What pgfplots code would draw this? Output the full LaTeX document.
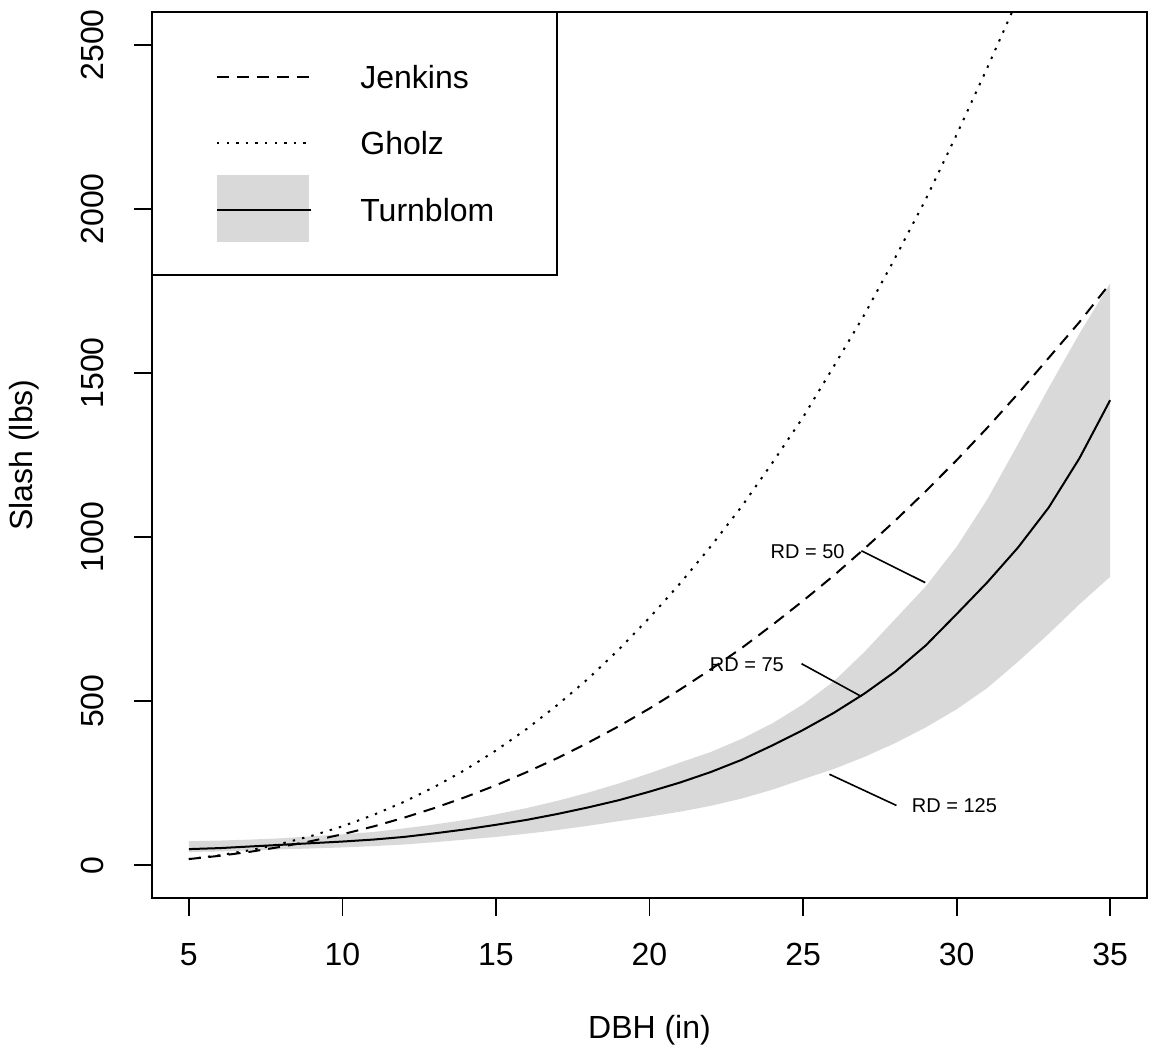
\documentclass[border=0pt]{standalone}
\usepackage{pgfplots}
\pgfplotsset{compat=1.18}
\usepgfplotslibrary{fillbetween}
\usepackage{pgfplotstable}
\usepackage{fontspec}
\setmainfont{Liberation Sans}
\definecolor{band}{HTML}{D9D9D9}

\pgfplotstableread{
x y
5 18.6
6 28.5
7 40.9
8 55.9
9 73.6
10 94.2
11 117.7
12 144.5
13 174.2
14 207.3
15 243.5
16 283.5
17 326.3
18 373.2
19 423.4
20 477.5
21 535.5
22 597
23 661.6
24 732
25 805.6
26 882.6
27 964.6
28 1050
29 1140
30 1234
31 1333
32 1437
33 1546
34 1655
35 1773
}\jenkins

\pgfplotstableread{
x y
5 18.6
6 30.3
7 45.7
8 65.2
9 89.4
10 118.4
11 152.7
12 192.6
13 238.5
14 290.5
15 349.5
16 415
17 488
18 568
19 657
20 754
21 859
22 972
23 1093
24 1226
25 1365
26 1520
27 1678
28 1851
29 2030
30 2226
31 2430
32 2641
33 2870
}\gholz

\pgfplotstableread{
x mid up lo
5 49 73 40
6 52 75 42
7 57 78 45
8 62 82 48
9 67 88 51
10 72 94 54
11 78 101 58
12 86 112 63
13 97 124 70
14 109 138 78
15 123 155 86
16 138 174 96
17 156 196 107
18 176 221 120
19 198 249 134
20 224 280 148
21 252 313 163
22 284 345 181
23 321 385 203
24 365 432 230
25 412 490 262
26 464 560 293
27 523 650 330
28 590 750 372
29 670 850 420
30 765 970 475
31 862 1115 540
32 968 1283 620
33 1090 1455 705
34 1240 1620 795
35 1417 1773 879
}\turnblom

\begin{document}
\begin{tikzpicture}
\begin{axis}[name=ax, scale only axis, width=497.5pt, height=443pt,
  xmin=3.8, xmax=36.2, ymin=-100, ymax=2600,
  xtick={5,10,...,35}, ytick={0,500,...,2500},
  xtick pos=bottom, ytick pos=left,
  tick align=outside, major tick length=9pt,
  tick style={black, line width=0.9pt},
  axis line style={line width=1pt},
  font=\fontsize{16}{19}\selectfont,
  /pgf/number format/assume math mode=true,
  /pgf/number format/1000 sep={},
  xticklabel style={yshift=-10pt},
  yticklabel style={xshift=-11.5pt, rotate=90, anchor=south},
  xlabel={DBH (in)}, ylabel={Slash (lbs)},
  xlabel style={at={(axis description cs:0.5,-0.149)}, anchor=center},
  ylabel style={at={(axis description cs:-0.1286,0.5)}, anchor=center},
  clip mode=individual,
]
\addplot[name path=up, draw=none, forget plot] table[x=x, y=up] {\turnblom};
\addplot[name path=lo, draw=none, forget plot] table[x=x, y=lo] {\turnblom};
\addplot[band, draw=none] fill between[of=up and lo];
\addplot[black, line width=1pt, dash pattern=on 6pt off 4pt] table[x=x,y=y] {\jenkins};
\addplot[black, line width=1pt, dash pattern=on 1.2pt off 3.6pt] table[x=x,y=y] {\gholz};
\addplot[black, line width=1pt] table[x=x,y=mid] {\turnblom};

% annotations
\node[font=\fontsize{10}{12}\selectfont] at (axis cs:25.15,955) {RD = 50};
\draw[line width=0.8pt] (axis cs:26.9,958) -- (axis cs:28.98,861);
\node[font=\fontsize{10}{12}\selectfont] at (axis cs:23.17,611) {RD = 75};
\draw[line width=0.8pt] (axis cs:24.95,614) -- (axis cs:26.9,514);
\node[font=\fontsize{10}{12}\selectfont] at (axis cs:29.93,182) {RD = 125};
\draw[line width=0.8pt] (axis cs:25.86,277) -- (axis cs:28.04,182);

% legend
\draw[line width=1pt, fill=white] (axis description cs:0,1) rectangle (axis description cs:0.407,0.703);
\draw[line width=1pt, dash pattern=on 6pt off 4pt] (axis description cs:0.0653,0.9266) -- (axis description cs:0.160,0.9266);
\node[anchor=west, inner sep=0pt] at (axis description cs:0.209,0.9266) {Jenkins};
\draw[line width=1pt, dash pattern=on 1.2pt off 3.6pt] (axis description cs:0.0653,0.852) -- (axis description cs:0.160,0.852);
\node[anchor=west, inner sep=0pt] at (axis description cs:0.209,0.852) {Gholz};
\fill[band] (axis description cs:0.0653,0.816) rectangle (axis description cs:0.158,0.740);
\draw[line width=1pt] (axis description cs:0.0653,0.7765) -- (axis description cs:0.160,0.7765);
\node[anchor=west, inner sep=0pt] at (axis description cs:0.209,0.7765) {Turnblom};
\end{axis}
\path ([xshift=-76pt,yshift=-77.5pt]ax.south west) rectangle ([xshift=2.5pt,yshift=6pt]ax.north east);
\end{tikzpicture}
\end{document}
